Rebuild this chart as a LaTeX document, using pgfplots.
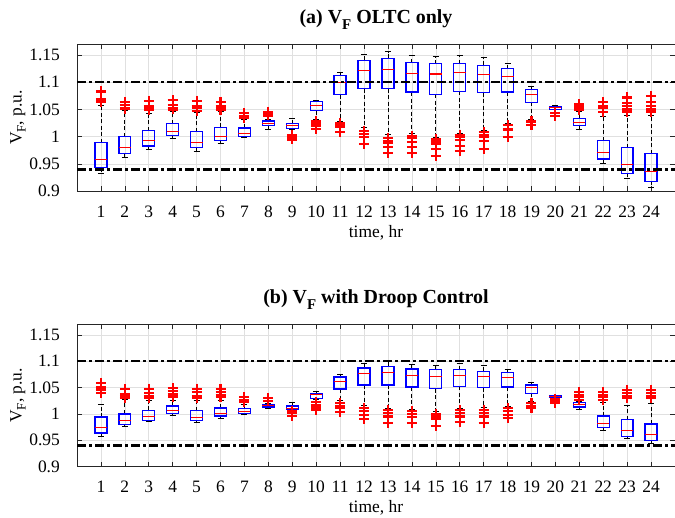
\documentclass[border=0pt]{standalone}
\usepackage{fontspec}
\setmainfont{Liberation Serif}
\usepackage{pgfplots}
\pgfplotsset{compat=1.18}
\usepgfplotslibrary{statistics}

\pgfplotsset{
  mybox/.style={
    draw=blue, line width=0.9bp, solid,
    mark=+, mark size=5bp,
    mark options={draw=red, solid, line width=2.1bp},
    boxplot/draw direction=y,
    boxplot/box extend=0.5,
    boxplot/whisker extend=0.25,
    boxplot/draw/box/.code={%
      \draw[blue, solid, line width=1.3bp]
        (boxplot box cs:\pgfplotsboxplotvalue{lower quartile},0) rectangle
        (boxplot box cs:\pgfplotsboxplotvalue{upper quartile},1);
    },
    boxplot/draw/median/.code={%
      \draw[red, solid, line width=1.1bp]
        (boxplot box cs:\pgfplotsboxplotvalue{median},0) --
        (boxplot box cs:\pgfplotsboxplotvalue{median},1);
    },
    boxplot/draw/lower whisker/.code={%
      \draw[black, line width=0.8bp, dash pattern=on 4bp off 2.5bp]
        (boxplot box cs:\pgfplotsboxplotvalue{lower quartile},0.5) --
        (boxplot whisker cs:\pgfplotsboxplotvalue{lower whisker},0.5);
      \draw[black, line width=0.8bp, solid]
        (boxplot whisker cs:\pgfplotsboxplotvalue{lower whisker},0) --
        (boxplot whisker cs:\pgfplotsboxplotvalue{lower whisker},1);
    },
    boxplot/draw/upper whisker/.code={%
      \draw[black, line width=0.8bp, dash pattern=on 4bp off 2.5bp]
        (boxplot box cs:\pgfplotsboxplotvalue{upper quartile},0.5) --
        (boxplot whisker cs:\pgfplotsboxplotvalue{upper whisker},0.5);
      \draw[black, line width=0.8bp, solid]
        (boxplot whisker cs:\pgfplotsboxplotvalue{upper whisker},0) --
        (boxplot whisker cs:\pgfplotsboxplotvalue{upper whisker},1);
    },
  },
  myaxis/.style={
    scale only axis, width=598bp,
    xmin=0, xmax=25, ymin=0.9, ymax=1.17,
    xtick={1,...,24},
    ytick={0.9,0.95,1,1.05,1.1,1.15},
    yticklabels={0.9,0.95,1,1.05,1.1,1.15},
    grid=major, grid style={black!12, line width=0.6bp},
    tick align=inside, major tick length=5bp,
    tick style={black!85, line width=0.6bp},
    axis line style={black!85, line width=0.8bp},
    tick label style={font=\fontsize{17.5}{20}\selectfont},
    /pgf/number format/assume math mode=true,
    xticklabel style={anchor=base, yshift=-26bp},
    yticklabel style={anchor=east, inner sep=0pt, xshift=-17bp},
    xlabel={time, hr},
    xlabel style={at={(axis description cs:0.5,0)}, anchor=base, yshift=-46bp, font=\fontsize{17.5}{20}\selectfont},
    ylabel={V\raisebox{-4bp}{\fontsize{13}{13}\selectfont F}, p.u.},
    ylabel style={at={(axis description cs:-0.099,0.5)}, anchor=center, font=\fontsize{17.5}{20}\selectfont},
    title style={at={(axis description cs:0.5,1)}, anchor=base, yshift=15bp, font=\fontsize{20}{22}\selectfont\bfseries},
  },
  limline/.style={black, line width=2.6bp, dash pattern=on 9bp off 3bp on 3bp off 3bp},
}

\begin{document}
\begin{tikzpicture}
\useasboundingbox (0,0) rectangle (675bp,518bp);

% ---------------- (a) ----------------
\begin{axis}[myaxis, height=147.3bp, at={(77bp,326.7bp)}, anchor=south west,
  title={(a) V\raisebox{-6bp}{\fontsize{15}{15}\selectfont F} OLTC only}]
\addplot[mybox, boxplot prepared={draw position=1, lower whisker=0.933, lower quartile=0.943, median=0.959, upper quartile=0.989, upper whisker=1.057}] table[row sep=\\, y index=0, header=false] {1.083\\1.069\\1.066\\1.063\\};
\addplot[mybox, boxplot prepared={draw position=2, lower whisker=0.962, lower quartile=0.969, median=0.980, upper quartile=1.000, upper whisker=1.049}] table[row sep=\\, y index=0, header=false] {1.064\\1.058\\1.053\\1.051\\};
\addplot[mybox, boxplot prepared={draw position=3, lower whisker=0.977, lower quartile=0.983, median=0.993, upper quartile=1.011, upper whisker=1.042}] table[row sep=\\, y index=0, header=false] {1.066\\1.057\\1.052\\1.049\\};
\addplot[mybox, boxplot prepared={draw position=4, lower whisker=0.997, lower quartile=1.002, median=1.010, upper quartile=1.024, upper whisker=1.046}] table[row sep=\\, y index=0, header=false] {1.067\\1.059\\1.053\\1.050\\};
\addplot[mybox, boxplot prepared={draw position=5, lower whisker=0.974, lower quartile=0.980, median=0.990, upper quartile=1.009, upper whisker=1.044}] table[row sep=\\, y index=0, header=false] {1.066\\1.056\\1.052\\1.048\\};
\addplot[mybox, boxplot prepared={draw position=6, lower whisker=0.988, lower quartile=0.993, median=1.001, upper quartile=1.017, upper whisker=1.046}] table[row sep=\\, y index=0, header=false] {1.064\\1.057\\1.053\\1.049\\};
\addplot[mybox, boxplot prepared={draw position=7, lower whisker=0.999, lower quartile=1.001, median=1.006, upper quartile=1.016, upper whisker=1.031}] table[row sep=\\, y index=0, header=false] {1.043\\1.038\\1.035\\};
\addplot[mybox, boxplot prepared={draw position=8, lower whisker=1.014, lower quartile=1.020, median=1.025, upper quartile=1.029, upper whisker=1.031}] table[row sep=\\, y index=0, header=false] {1.046\\1.042\\1.039\\};
\addplot[mybox, boxplot prepared={draw position=9, lower whisker=1.013, lower quartile=1.015, median=1.020, upper quartile=1.024, upper whisker=1.033}] table[row sep=\\, y index=0, header=false] {1.003\\0.999\\0.995\\};
\addplot[mybox, boxplot prepared={draw position=10, lower whisker=1.032, lower quartile=1.048, median=1.057, upper quartile=1.064, upper whisker=1.067}] table[row sep=\\, y index=0, header=false] {1.028\\1.023\\1.020\\1.015\\};
\addplot[mybox, boxplot prepared={draw position=11, lower whisker=1.029, lower quartile=1.077, median=1.099, upper quartile=1.112, upper whisker=1.118}] table[row sep=\\, y index=0, header=false] {1.026\\1.022\\1.018\\1.009\\};
\addplot[mybox, boxplot prepared={draw position=12, lower whisker=1.018, lower quartile=1.088, median=1.121, upper quartile=1.140, upper whisker=1.151}] table[row sep=\\, y index=0, header=false] {1.010\\1.005\\1.000\\0.986\\};
\addplot[mybox, boxplot prepared={draw position=13, lower whisker=1.005, lower quartile=1.088, median=1.124, upper quartile=1.144, upper whisker=1.156}] table[row sep=\\, y index=0, header=false] {0.998\\0.993\\0.988\\0.982\\0.971\\};
\addplot[mybox, boxplot prepared={draw position=14, lower whisker=1.006, lower quartile=1.082, median=1.116, upper quartile=1.136, upper whisker=1.149}] table[row sep=\\, y index=0, header=false] {1.002\\0.997\\0.991\\0.982\\0.971\\};
\addplot[mybox, boxplot prepared={draw position=15, lower whisker=0.998, lower quartile=1.078, median=1.115, upper quartile=1.134, upper whisker=1.147}] table[row sep=\\, y index=0, header=false] {0.995\\0.991\\0.987\\0.977\\0.964\\};
\addplot[mybox, boxplot prepared={draw position=16, lower whisker=1.007, lower quartile=1.083, median=1.117, upper quartile=1.134, upper whisker=1.150}] table[row sep=\\, y index=0, header=false] {1.004\\0.999\\0.994\\0.983\\0.974\\};
\addplot[mybox, boxplot prepared={draw position=17, lower whisker=1.011, lower quartile=1.081, median=1.114, upper quartile=1.131, upper whisker=1.146}] table[row sep=\\, y index=0, header=false] {1.008\\1.003\\0.999\\0.993\\0.977\\};
\addplot[mybox, boxplot prepared={draw position=18, lower whisker=1.024, lower quartile=1.082, median=1.110, upper quartile=1.125, upper whisker=1.134}] table[row sep=\\, y index=0, header=false] {1.021\\1.015\\1.012\\0.999\\};
\addplot[mybox, boxplot prepared={draw position=19, lower whisker=1.031, lower quartile=1.063, median=1.078, upper quartile=1.087, upper whisker=1.092}] table[row sep=\\, y index=0, header=false] {1.028\\1.021\\};
\addplot[mybox, boxplot prepared={draw position=20, lower whisker=1.050, lower quartile=1.050, median=1.053, upper quartile=1.055, upper whisker=1.057}] table[row sep=\\, y index=0, header=false] {1.043\\1.038\\};
\addplot[mybox, boxplot prepared={draw position=21, lower whisker=1.013, lower quartile=1.021, median=1.026, upper quartile=1.033, upper whisker=1.046}] table[row sep=\\, y index=0, header=false] {1.060\\1.056\\1.053\\1.049\\};
\addplot[mybox, boxplot prepared={draw position=22, lower whisker=0.951, lower quartile=0.959, median=0.971, upper quartile=0.993, upper whisker=1.038}] table[row sep=\\, y index=0, header=false] {1.063\\1.057\\1.052\\1.046\\};
\addplot[mybox, boxplot prepared={draw position=23, lower whisker=0.923, lower quartile=0.933, median=0.949, upper quartile=0.980, upper whisker=1.040}] table[row sep=\\, y index=0, header=false] {1.072\\1.062\\1.056\\1.050\\1.045\\};
\addplot[mybox, boxplot prepared={draw position=24, lower whisker=0.908, lower quartile=0.918, median=0.937, upper quartile=0.969, upper whisker=1.040}] table[row sep=\\, y index=0, header=false] {1.074\\1.063\\1.056\\1.050\\1.045\\};
\addplot[limline] coordinates {(0,1.1) (25,1.1)};
\addplot[limline] coordinates {(0,0.94) (25,0.94)};
\end{axis}

% ---------------- (b) ----------------
\begin{axis}[myaxis, height=142.3bp, at={(77bp,51.4bp)}, anchor=south west,
  title={(b) V\raisebox{-6bp}{\fontsize{15}{15}\selectfont F} with Droop Control}]
\addplot[mybox, boxplot prepared={draw position=1, lower whisker=0.958, lower quartile=0.964, median=0.974, upper quartile=0.994, upper whisker=1.018}] table[row sep=\\, y index=0, header=false] {1.059\\1.050\\1.045\\1.039\\};
\addplot[mybox, boxplot prepared={draw position=2, lower whisker=0.977, lower quartile=0.980, median=0.988, upper quartile=1.000, upper whisker=1.027}] table[row sep=\\, y index=0, header=false] {1.047\\1.038\\1.033\\1.030\\};
\addplot[mybox, boxplot prepared={draw position=3, lower whisker=0.985, lower quartile=0.988, median=0.995, upper quartile=1.007, upper whisker=1.025}] table[row sep=\\, y index=0, header=false] {1.048\\1.040\\1.034\\1.030\\};
\addplot[mybox, boxplot prepared={draw position=4, lower whisker=0.998, lower quartile=1.001, median=1.006, upper quartile=1.015, upper whisker=1.025}] table[row sep=\\, y index=0, header=false] {1.049\\1.043\\1.038\\1.033\\};
\addplot[mybox, boxplot prepared={draw position=5, lower whisker=0.984, lower quartile=0.988, median=0.994, upper quartile=1.006, upper whisker=1.025}] table[row sep=\\, y index=0, header=false] {1.048\\1.041\\1.034\\1.030\\};
\addplot[mybox, boxplot prepared={draw position=6, lower whisker=0.992, lower quartile=0.996, median=1.001, upper quartile=1.011, upper whisker=1.025}] table[row sep=\\, y index=0, header=false] {1.048\\1.041\\1.036\\1.032\\};
\addplot[mybox, boxplot prepared={draw position=7, lower whisker=0.999, lower quartile=1.001, median=1.004, upper quartile=1.010, upper whisker=1.018}] table[row sep=\\, y index=0, header=false] {1.032\\1.027\\1.022\\};
\addplot[mybox, boxplot prepared={draw position=8, lower whisker=1.010, lower quartile=1.013, median=1.016, upper quartile=1.018, upper whisker=1.020}] table[row sep=\\, y index=0, header=false] {1.030\\1.025\\};
\addplot[mybox, boxplot prepared={draw position=9, lower whisker=1.009, lower quartile=1.009, median=1.011, upper quartile=1.015, upper whisker=1.021}] table[row sep=\\, y index=0, header=false] {1.006\\1.001\\0.996\\};
\addplot[mybox, boxplot prepared={draw position=10, lower whisker=1.027, lower quartile=1.029, median=1.036, upper quartile=1.039, upper whisker=1.043}] table[row sep=\\, y index=0, header=false] {1.022\\1.016\\1.012\\1.007\\};
\addplot[mybox, boxplot prepared={draw position=11, lower whisker=1.025, lower quartile=1.047, median=1.062, upper quartile=1.070, upper whisker=1.075}] table[row sep=\\, y index=0, header=false] {1.021\\1.015\\1.011\\1.004\\};
\addplot[mybox, boxplot prepared={draw position=12, lower whisker=1.016, lower quartile=1.055, median=1.076, upper quartile=1.087, upper whisker=1.096}] table[row sep=\\, y index=0, header=false] {1.012\\1.006\\0.998\\0.991\\};
\addplot[mybox, boxplot prepared={draw position=13, lower whisker=1.011, lower quartile=1.055, median=1.078, upper quartile=1.090, upper whisker=1.100}] table[row sep=\\, y index=0, header=false] {1.008\\1.001\\0.995\\0.982\\};
\addplot[mybox, boxplot prepared={draw position=14, lower whisker=1.009, lower quartile=1.051, median=1.073, upper quartile=1.085, upper whisker=1.094}] table[row sep=\\, y index=0, header=false] {1.005\\0.999\\0.994\\0.982\\};
\addplot[mybox, boxplot prepared={draw position=15, lower whisker=1.004, lower quartile=1.048, median=1.071, upper quartile=1.084, upper whisker=1.092}] table[row sep=\\, y index=0, header=false] {1.000\\0.995\\0.990\\0.977\\};
\addplot[mybox, boxplot prepared={draw position=16, lower whisker=1.011, lower quartile=1.052, median=1.073, upper quartile=1.084, upper whisker=1.095}] table[row sep=\\, y index=0, header=false] {1.007\\1.001\\0.995\\0.985\\};
\addplot[mybox, boxplot prepared={draw position=17, lower whisker=1.012, lower quartile=1.050, median=1.071, upper quartile=1.081, upper whisker=1.092}] table[row sep=\\, y index=0, header=false] {1.008\\1.001\\0.995\\0.983\\};
\addplot[mybox, boxplot prepared={draw position=18, lower whisker=1.014, lower quartile=1.051, median=1.069, upper quartile=1.079, upper whisker=1.084}] table[row sep=\\, y index=0, header=false] {1.011\\1.006\\0.998\\0.992\\};
\addplot[mybox, boxplot prepared={draw position=19, lower whisker=1.024, lower quartile=1.039, median=1.050, upper quartile=1.055, upper whisker=1.059}] table[row sep=\\, y index=0, header=false] {1.020\\1.015\\1.011\\};
\addplot[mybox, boxplot prepared={draw position=20, lower whisker=1.031, lower quartile=1.031, median=1.033, upper quartile=1.035, upper whisker=1.036}] table[row sep=\\, y index=0, header=false] {1.028\\1.024\\1.020\\};
\addplot[mybox, boxplot prepared={draw position=21, lower whisker=1.009, lower quartile=1.013, median=1.017, upper quartile=1.021, upper whisker=1.024}] table[row sep=\\, y index=0, header=false] {1.041\\1.036\\1.032\\1.027\\};
\addplot[mybox, boxplot prepared={draw position=22, lower whisker=0.969, lower quartile=0.974, median=0.981, upper quartile=0.996, upper whisker=1.022}] table[row sep=\\, y index=0, header=false] {1.041\\1.036\\1.032\\1.027\\};
\addplot[mybox, boxplot prepared={draw position=23, lower whisker=0.953, lower quartile=0.957, median=0.969, upper quartile=0.989, upper whisker=1.017}] table[row sep=\\, y index=0, header=false] {1.046\\1.040\\1.034\\1.030\\};
\addplot[mybox, boxplot prepared={draw position=24, lower whisker=0.944, lower quartile=0.950, median=0.961, upper quartile=0.981, upper whisker=1.020}] table[row sep=\\, y index=0, header=false] {1.046\\1.040\\1.034\\1.030\\};
\addplot[limline] coordinates {(0,1.1) (25,1.1)};
\addplot[limline] coordinates {(0,0.94) (25,0.94)};
\end{axis}
\end{tikzpicture}
\end{document}
